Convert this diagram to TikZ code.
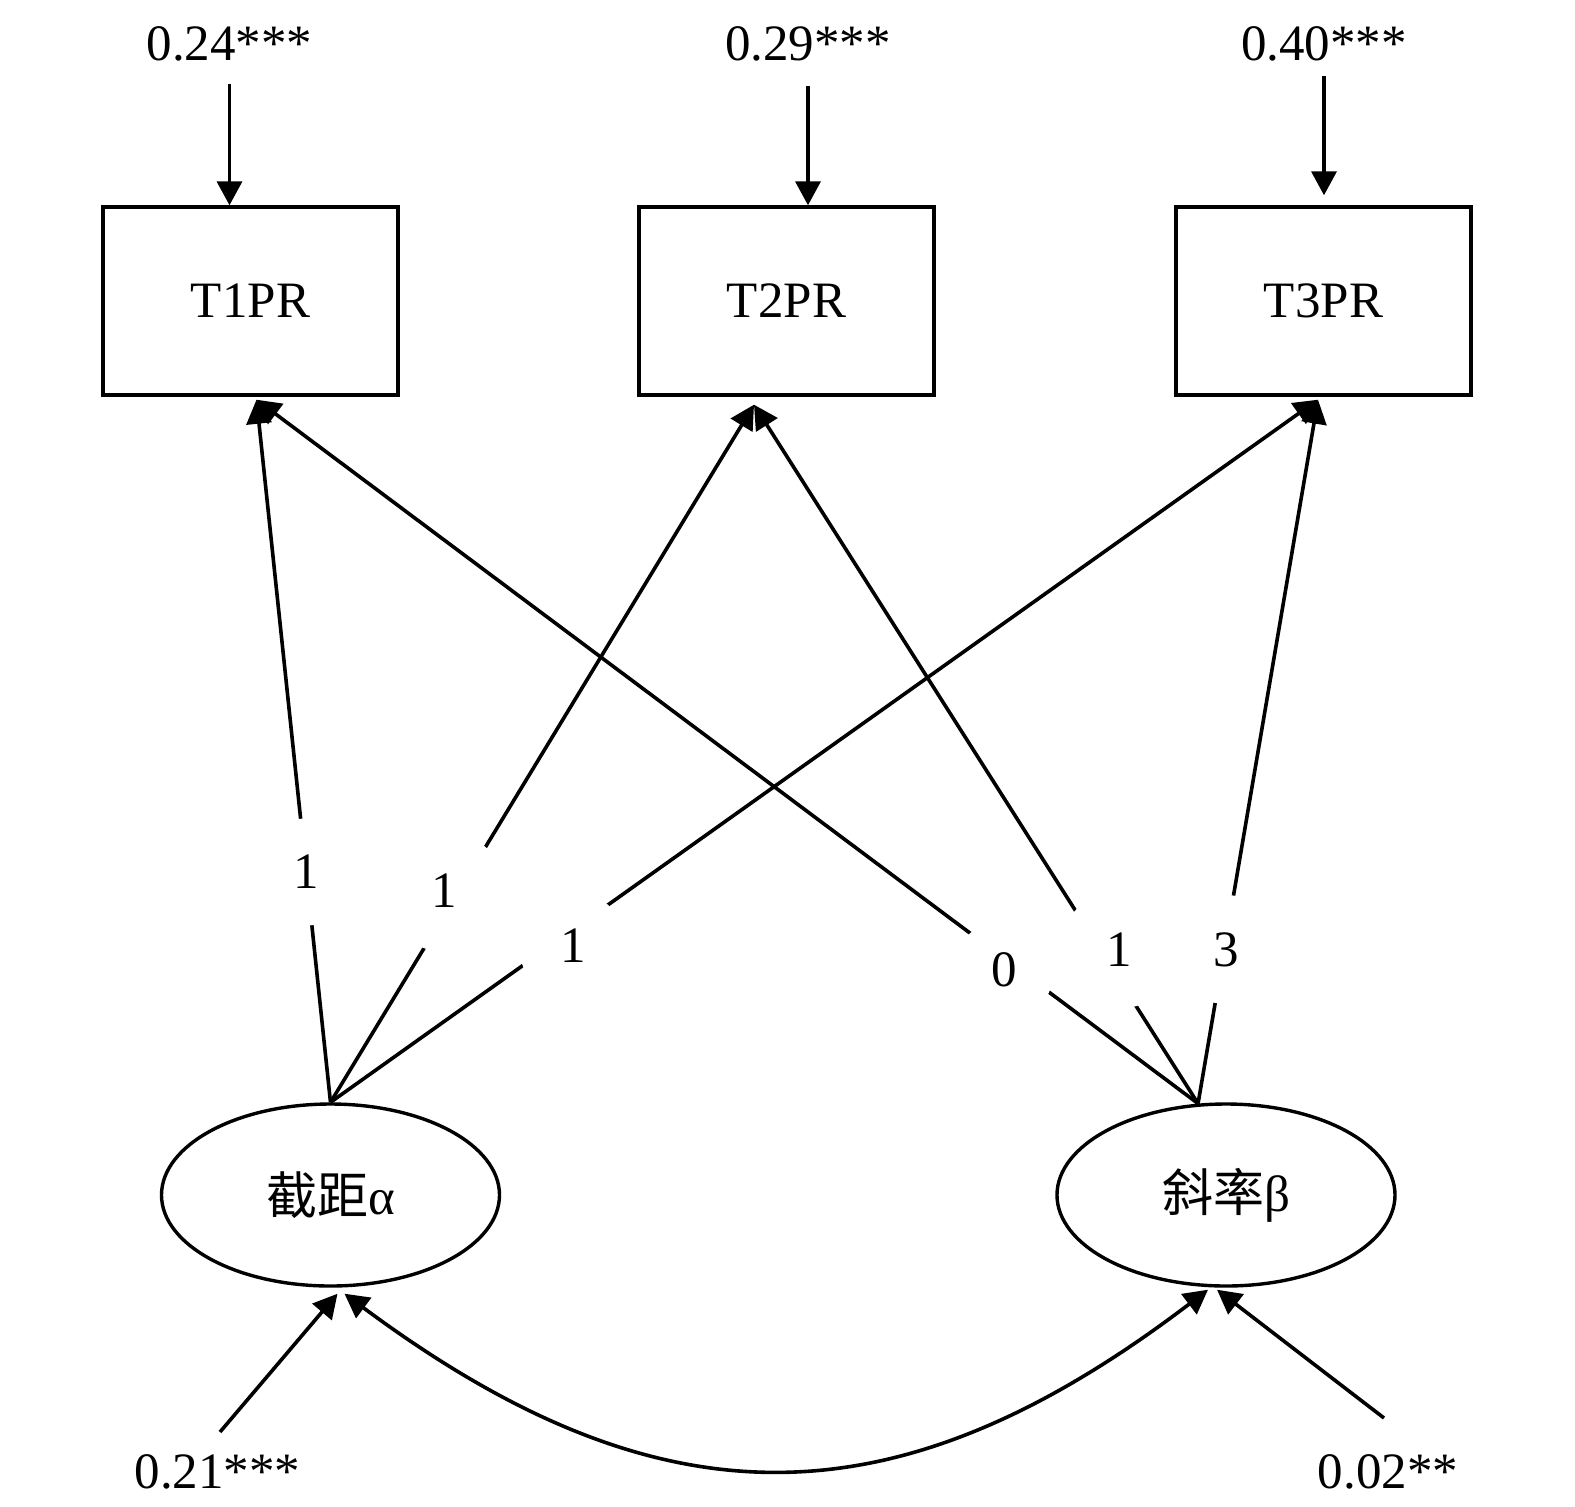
\documentclass[tikz,border=0pt]{standalone}
\usepackage{fontspec}
\setmainfont{Liberation Serif}
\newfontfamily\cjk{Noto Sans CJK SC}
\usetikzlibrary{arrows.meta,shapes.geometric}
\begin{document}
\begin{tikzpicture}[x=0.5pt,y=-0.5pt,
  every node/.style={font=\fontsize{25.5pt}{30pt}\selectfont},
  obs/.style={draw, line width=1.7pt, rectangle, minimum width=147.5pt, minimum height=94pt, inner sep=0pt},
  lat/.style={draw, line width=1.7pt, ellipse, minimum width=169pt, minimum height=91pt, inner sep=0pt},
  coef/.style={inner sep=0pt, anchor=base},
  ld/.style={circle, fill=white, inner sep=0pt, minimum size=#1},
  arr/.style={line width=1.8pt, -{Triangle[length=12pt,width=12.5pt]}},
  darr/.style={line width=1.8pt, {Triangle[length=12pt,width=12.5pt]}-{Triangle[length=12pt,width=12.5pt]}}
]
\useasboundingbox (0,0) rectangle (1575,1506);

% observed variables
\node[obs] (t1) at (250.5,301) {T1PR};
\node[obs] (t2) at (786.5,301) {T2PR};
\node[obs] (t3) at (1323.5,301) {T3PR};

% latent variables
\node[lat] (a) at (330.5,1195) {{\cjk 截距}α};
\node[lat] (b) at (1226,1195) {{\cjk 斜率}β};

% coefficients
\node[coef] (e1) at (229.5,60) {0.24***};
\node[coef] (e2) at (808,60) {0.29***};
\node[coef] (e3) at (1324,60) {0.40***};
\node[coef] (e4) at (217.5,1488) {0.21***};
\node[coef] (e5) at (1388,1488) {0.02**};

% residual arrows on top
\draw[arr, shorten <=11.5pt] (e1) -- (e1 |- t1.north);
\draw[arr, shorten <=12.5pt] (e2) -- (e2 |- t2.north);
\draw[arr, shorten <=7.5pt, shorten >=5pt] (e3) -- (e3 |- t3.north);

% loading endpoints
\coordinate (t1in) at ([xshift=3pt,yshift=-1.5pt]t1.south);
\coordinate (t2in) at ([xshift=-16.25pt,yshift=-4pt]t2.south);
\coordinate (t3in) at ([xshift=-2.75pt,yshift=-1.5pt]t3.south);
\coordinate (bo) at (b.107);

% loadings
\draw[arr] (a.north) -- (t1in);
\draw[arr] (a.north) -- (t2in);
\draw[arr] (a.north) -- (t3in);
\draw[arr] (bo) -- (t1in);
\draw[arr] (bo) -- (t2in);
\draw[arr] (bo) -- (t3in);

% loading labels
\node[ld=53.5pt] (l1) at (306,872) {1};
\node[ld=60.5pt] (l2) at (444,891) {1};
\node[ld=54pt] (l3) at (573,946) {1};
\node[ld=50pt] (l4) at (1004.5,969.5) {0};
\node[ld=59pt] (l5) at (1119.5,949.5) {1};
\node[ld=54.5pt] (l6) at (1226,949.5) {3};

% disturbance arrows at bottom
\coordinate (s4) at (220,1432);
\coordinate (s5) at (1384,1418);
\draw[arr] (s4) -- ([xshift=3.5pt,yshift=-3pt]a.south);
\draw[arr] (s5) -- ([xshift=-4.5pt,yshift=-1pt]b.south);

% covariance
\draw[darr] ([xshift=7pt,yshift=-3pt]a.south) .. controls (660,1528) and (895,1528) .. ([xshift=-9pt,yshift=-1pt]b.south);
\end{tikzpicture}
\end{document}
